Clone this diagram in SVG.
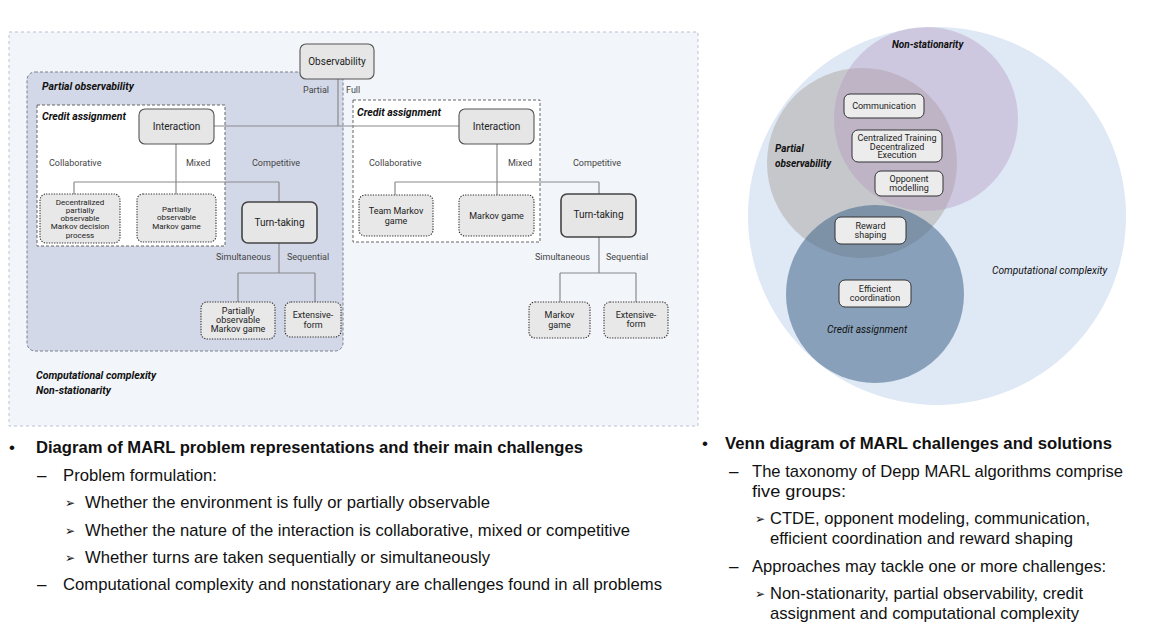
<svg xmlns="http://www.w3.org/2000/svg" width="1151" height="629" viewBox="0 0 1151 629">
<style>
.lbl{font-family:Roboto,"Liberation Sans",sans-serif;font-size:9px;fill:#444}
.nt{font-family:Roboto,"Liberation Sans",sans-serif;font-size:10px;fill:#222;text-anchor:middle}
.st{font-family:Roboto,"Liberation Sans",sans-serif;font-size:8px;fill:#222;text-anchor:middle}
.vt{font-family:Roboto,"Liberation Sans",sans-serif;font-size:9px;fill:#222;text-anchor:middle}
.mt{font-family:Roboto,"Liberation Sans",sans-serif;font-size:9px;fill:#222;text-anchor:middle}
.bi{font-family:Roboto,"Liberation Sans",sans-serif;font-size:10.5px;font-weight:bold;font-style:italic;fill:#111}
.vbi{font-family:Roboto,"Liberation Sans",sans-serif;font-size:10px;font-weight:bold;font-style:italic;fill:#111}
.it{font-family:Roboto,"Liberation Sans",sans-serif;font-size:10.2px;font-style:italic;fill:#111}
.solid{fill:#e6e6e6;stroke:#555;stroke-width:1.1}
.thick{fill:#e6e6e6;stroke:#444;stroke-width:1.6}
.dot{fill:#e8e8e8;stroke:#333;stroke-width:1.1;stroke-dasharray:1.3 1.3}
.vbox{fill:#ececec;stroke:#333;stroke-width:1}
.conn{fill:none;stroke:#8a8a8a;stroke-width:1.2}
.bl{font-family:"Liberation Sans",Arial,sans-serif;font-size:17px;fill:#111}
.bb{font-family:"Liberation Sans",Arial,sans-serif;font-size:16.5px;font-weight:bold;fill:#111}
.mk{font-family:"DejaVu Sans",sans-serif;font-size:12px;fill:#111}
</style>

<g id="regions">
<rect x="9" y="32" width="689" height="394" fill="#f2f5fa" stroke="#b9c2d3" stroke-width="1" stroke-dasharray="3 3"/>
<rect x="27" y="72" width="316" height="279" rx="8" fill="#d3d8e8" stroke="#7a7f8c" stroke-width="1" stroke-dasharray="3 2"/>
<rect x="37" y="105" width="188" height="141" fill="#ffffff" stroke="#666" stroke-width="1" stroke-dasharray="3 2"/>
<rect x="353" y="100" width="187" height="142" fill="#ffffff" stroke="#666" stroke-width="1" stroke-dasharray="3 2"/>
<text class="bi" x="42" y="90">Partial observability</text>
<text class="bi" x="42" y="120">Credit assignment</text>
<text class="bi" x="357" y="116">Credit assignment</text>
<text class="bi" x="36" y="379">Computational complexity</text>
<text class="bi" x="36" y="394">Non-stationarity</text>
</g>

<g id="connectors">
<path class="conn" d="M338 79 V126 M214 126 H459"/>
<path class="conn" d="M176 144 V182 M74 182 H279 M74 182 V194 M176 182 V194 M279 182 V202"/>
<path class="conn" d="M279 243 V273 M238 273 H315 M238 273 V302 M315 273 V302"/>
<path class="conn" d="M497 144 V182 M395 182 H599 M395 182 V195 M497 182 V195 M599 182 V194"/>
<path class="conn" d="M599 237 V273 M560 273 H636 M560 273 V302 M636 273 V302"/>
</g>

<g id="edge-labels">
<text class="lbl" x="303" y="93">Partial</text>
<text class="lbl" x="346" y="93">Full</text>
<text class="lbl" x="49" y="166">Collaborative</text>
<text class="lbl" x="186" y="166">Mixed</text>
<text class="lbl" x="252" y="166">Competitive</text>
<text class="lbl" x="216" y="260">Simultaneous</text>
<text class="lbl" x="287" y="260">Sequential</text>
<text class="lbl" x="369" y="166">Collaborative</text>
<text class="lbl" x="508" y="166">Mixed</text>
<text class="lbl" x="573" y="166">Competitive</text>
<text class="lbl" x="535" y="260">Simultaneous</text>
<text class="lbl" x="606" y="260">Sequential</text>
</g>

<g id="observability"><rect class="solid" x="300" y="44" width="74" height="35" rx="6"/><text class="nt" x="337" y="65">Observability</text></g>
<g id="interaction-left"><rect class="solid" x="139" y="109" width="75" height="35" rx="6"/><text class="nt" x="176.5" y="130">Interaction</text></g>
<g id="interaction-right"><rect class="solid" x="459" y="109" width="75" height="35" rx="6"/><text class="nt" x="496.5" y="130">Interaction</text></g>

<g id="decpomdp"><rect class="dot" x="40" y="194" width="80" height="49" rx="6"/>
<text class="st" x="80" y="205">Decentralized</text><text class="st" x="80" y="213">partially</text><text class="st" x="80" y="221">observable</text><text class="st" x="80" y="229">Markov decision</text><text class="st" x="80" y="238">process</text></g>
<g id="pomg-left"><rect class="dot" x="137" y="194" width="79" height="48" rx="6"/>
<text class="st" x="176.5" y="212">Partially</text><text class="st" x="176.5" y="220">observable</text><text class="st" x="176.5" y="229">Markov game</text></g>
<g id="turn-left"><rect class="thick" x="242" y="202" width="75" height="41" rx="6"/><text class="nt" x="279.5" y="226">Turn-taking</text></g>
<g id="pomg-bottom"><rect class="dot" x="201" y="302" width="74" height="37" rx="6"/>
<text class="mt" x="238" y="314">Partially</text><text class="mt" x="238" y="323">observable</text><text class="mt" x="238" y="332">Markov game</text></g>
<g id="ext-left"><rect class="dot" x="285" y="302" width="56" height="35" rx="6"/>
<text class="mt" x="313" y="318">Extensive-</text><text class="mt" x="313" y="328">form</text></g>

<g id="team-mg"><rect class="dot" x="359" y="195" width="74" height="41" rx="6"/>
<text class="mt" x="396" y="214">Team Markov</text><text class="mt" x="396" y="224">game</text></g>
<g id="mg-mid"><rect class="dot" x="459" y="195" width="75" height="41" rx="6"/>
<text class="mt" x="496.5" y="219">Markov game</text></g>
<g id="turn-right"><rect class="thick" x="561" y="194" width="75" height="43" rx="6"/><text class="nt" x="598.5" y="218">Turn-taking</text></g>
<g id="mg-bottom"><rect class="dot" x="529" y="302" width="61" height="36" rx="6"/>
<text class="mt" x="559.5" y="318">Markov</text><text class="mt" x="559.5" y="328">game</text></g>
<g id="ext-right"><rect class="dot" x="604" y="302" width="64" height="36" rx="6"/>
<text class="mt" x="636" y="318">Extensive-</text><text class="mt" x="636" y="327">form</text></g>

<g id="venn">
<circle cx="937" cy="216" r="189" fill="#dfe8f5"/>
<circle cx="862" cy="163" r="95" fill="#c6c7cb"/>
<circle cx="926" cy="119" r="92" fill="#b298be" fill-opacity="0.4"/>
<circle cx="875" cy="294" r="89" fill="#44678b" fill-opacity="0.56"/>
<text class="vbi" x="892" y="48">Non-stationarity</text>
<text class="vbi" x="775" y="152">Partial</text>
<text class="vbi" x="775" y="167">observability</text>
<text class="it" x="992" y="274">Computational complexity</text>
<text class="it" x="827" y="333">Credit assignment</text>
</g>
<g id="communication"><rect class="vbox" x="844" y="94" width="80" height="24" rx="6"/><text class="vt" x="884" y="109">Communication</text></g>
<g id="ctde"><rect class="vbox" x="852" y="130" width="90" height="32" rx="6"/>
<text class="vt" x="897" y="141">Centralized Training</text><text class="vt" x="897" y="149.5">Decentralized</text><text class="vt" x="897" y="158">Execution</text></g>
<g id="opponent"><rect class="vbox" x="875" y="171" width="68" height="25" rx="6"/>
<text class="vt" x="909" y="182">Opponent</text><text class="vt" x="909" y="190.5">modelling</text></g>
<g id="reward"><rect class="vbox" x="835" y="217" width="71" height="27" rx="6"/>
<text class="vt" x="870.5" y="229">Reward</text><text class="vt" x="870.5" y="237.5">shaping</text></g>
<g id="efficient"><rect class="vbox" x="839" y="280" width="72" height="27" rx="6"/>
<text class="vt" x="875" y="292">Efficient</text><text class="vt" x="875" y="300.5">coordination</text></g>

<g id="text-left">
<text class="bl" x="9" y="453">•</text>
<text class="bb" x="36" y="453" textLength="547" lengthAdjust="spacingAndGlyphs">Diagram of MARL problem representations and their main challenges</text>
<text class="bl" x="37" y="481">–</text>
<text class="bl" x="63" y="481" textLength="154" lengthAdjust="spacingAndGlyphs">Problem formulation:</text>
<text class="mk" x="65" y="507">➢</text>
<text class="bl" x="85" y="508" textLength="405" lengthAdjust="spacingAndGlyphs">Whether the environment is fully or partially observable</text>
<text class="mk" x="65" y="535">➢</text>
<text class="bl" x="85" y="536" textLength="545" lengthAdjust="spacingAndGlyphs">Whether the nature of the interaction is collaborative, mixed or competitive</text>
<text class="mk" x="65" y="562">➢</text>
<text class="bl" x="85" y="563" textLength="405" lengthAdjust="spacingAndGlyphs">Whether turns are taken sequentially or simultaneously</text>
<text class="bl" x="37" y="590">–</text>
<text class="bl" x="63" y="590" textLength="599" lengthAdjust="spacingAndGlyphs">Computational complexity and nonstationary are challenges found in all problems</text>
</g>

<g id="text-right">
<text class="bl" x="702" y="449">•</text>
<text class="bb" x="725" y="449" textLength="387" lengthAdjust="spacingAndGlyphs">Venn diagram of MARL challenges and solutions</text>
<text class="bl" x="729" y="477">–</text>
<text class="bl" x="752" y="477" textLength="371" lengthAdjust="spacingAndGlyphs">The taxonomy of Depp MARL algorithms comprise</text>
<text class="bl" x="752" y="497" textLength="94" lengthAdjust="spacingAndGlyphs">five groups:</text>
<text class="mk" x="755" y="523">➢</text>
<text class="bl" x="770" y="524" textLength="320" lengthAdjust="spacingAndGlyphs">CTDE, opponent modeling, communication,</text>
<text class="bl" x="770" y="544" textLength="303" lengthAdjust="spacingAndGlyphs">efficient coordination and reward shaping</text>
<text class="bl" x="729" y="572">–</text>
<text class="bl" x="752" y="572" textLength="354" lengthAdjust="spacingAndGlyphs">Approaches may tackle one or more challenges:</text>
<text class="mk" x="755" y="598">➢</text>
<text class="bl" x="770" y="599" textLength="313" lengthAdjust="spacingAndGlyphs">Non-stationarity, partial observability, credit</text>
<text class="bl" x="770" y="619" textLength="309" lengthAdjust="spacingAndGlyphs">assignment and computational complexity</text>
</g>
</svg>
